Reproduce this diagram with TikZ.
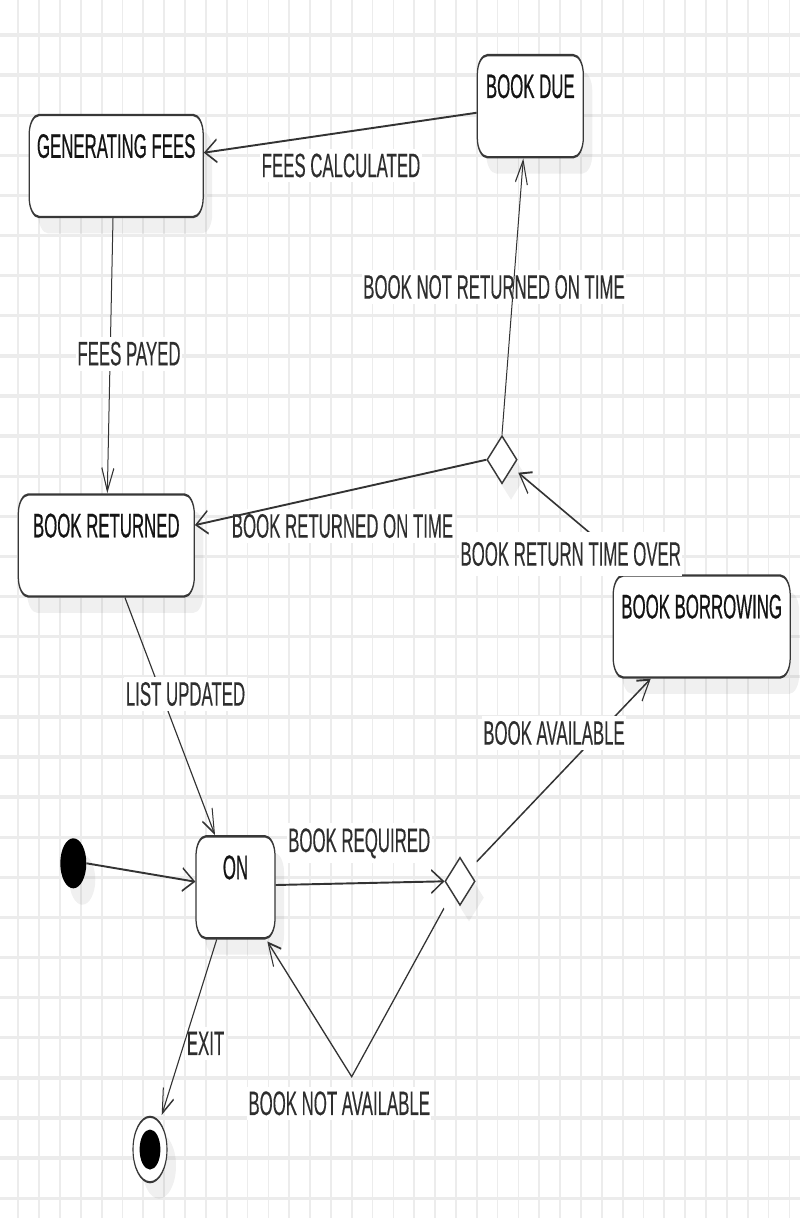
\documentclass[tikz,border=0pt]{standalone}
\usepackage{graphicx}
\usepackage{fontspec}
\setmainfont{Liberation Sans}
\newfontfamily\titlefont{Liberation Sans}[FakeBold=0.9]
\newfontfamily\labelfont{Liberation Sans}[FakeBold=0.4]
\usetikzlibrary{arrows.meta,shapes.geometric,shadows}
\newcommand\sq[1]{\scalebox{0.955}[1]{#1}}
\tikzset{
  gridline/.style={draw=gray!15, line width=1.7pt},
  shd/.style={drop shadow={shadow xshift=9pt, shadow yshift=-8.5pt, fill=black, opacity=0.06}},
  statebox/.style={draw=black!78, line width=1.25pt, fill=white, rounded corners=10pt,
    minimum height=53pt, inner sep=0pt, shd},
  titletext/.style={font=\titlefont\fontsize{17.6}{20}\selectfont, text=black!92, inner sep=0pt},
  lbl/.style={font=\labelfont\fontsize{17.6}{20}\selectfont, text=black!82, fill=white,
    inner xsep=1.5pt, inner ysep=2.5pt},
  conn/.style={draw=black!80, line width=1pt, -{Straight Barb[length=12pt,width=12pt]}},
  choice/.style={diamond, draw=black!78, line width=1.1pt, fill=white,
    minimum width=30pt, minimum height=25pt, inner sep=0pt, shd},
  pseudo/.style={circle, inner sep=0pt},
}
\begin{document}
\begin{tikzpicture}
\path[use as bounding box, fill=white] (0pt,0pt) rectangle (800pt,-1218pt);
\begin{scope}[transform canvas={yscale=1.925}, x=1pt, y=-0.519481pt]
  % grid
  \foreach \k in {0,...,37} \draw[gridline] ({18.3+20.84*\k},0) -- ({18.3+20.84*\k},1218);
  \foreach \k in {0,...,29} \draw[gridline] (0,{35+40.11*\k}) -- (800,{35+40.11*\k});

  % states
  \node[statebox, minimum width=174pt] (gf) at (116.2,166) {};
  \node[statebox, minimum width=106pt] (bd) at (530.3,106.2) {};
  \node[statebox, minimum width=176pt] (br) at (106.3,545.5) {};
  \node[statebox, minimum width=177pt] (bb) at (701.7,626.5) {};
  \node[statebox, minimum width=79pt]  (on) at (235.5,887.3) {};

  \node[titletext] (tgf) at ([yshift=-16.8pt]gf.north) {\sq{GENERATING FEES}};
  \node[titletext] (tbd) at ([yshift=-16.8pt]bd.north) {\sq{BOOK DUE}};
  \node[titletext] (tbr) at ([yshift=-16.8pt]br.north) {\sq{BOOK RETURNED}};
  \node[titletext] (tbb) at ([yshift=-16.8pt]bb.north) {\sq{BOOK BORROWING}};
  \node[titletext] (ton) at ([yshift=-16.8pt]on.north) {\sq{ON}};

  % pseudo states
  \node[pseudo, fill=black, minimum size=26pt, shd] (ini) at (73.3,863.3) {};
  \node[pseudo, draw=black!78, line width=1.1pt, fill=white, minimum size=34pt, shd] (fin) at (150,1149.5) {};
  \node[pseudo, fill=black, minimum size=20.8pt] (findot) at (fin.center) {};
  \node[choice] (d1) at (502,459.7) {};
  \node[choice] (d2) at (460,881.3) {};

  % connectors hidden under their labels
  \draw[conn] ([xshift=-3.2pt]gf.south) -- ([xshift=1pt]br.north);
  \draw[conn] ([xshift=18.7pt]br.south) -- ([xshift=-20.5pt]on.north);
  \draw[conn] ([xshift=16.7pt,yshift=10.2pt]d2.center) -- ([xshift=-51pt]bb.south);
  \draw[conn] ([xshift=-62.7pt]bb.north) -- ([xshift=16.3pt,yshift=-6.75pt]d1.center);

  % labels
  \node[lbl] (l1) at (341,165.5) {\sq{FEES CALCULATED}};
  \node[lbl] (l2) at (129,353.7) {\sq{FEES PAYED}};
  \node[lbl] (l3) at (494,287) {\sq{BOOK NOT RETURNED ON TIME}};
  \node[lbl] (l4) at (342.5,526) {\sq{BOOK RETURNED ON TIME}};
  \node[lbl, inner ysep=5pt] (l5) at (570.7,554) {\sq{BOOK RETURN TIME OVER}};
  \node[lbl] (l6) at (185.5,694) {\sq{LIST UPDATED}};
  \node[lbl] (l7) at (554,733) {\sq{BOOK AVAILABLE}};
  \node[lbl] (l8) at (359.2,843.3) {\sq{BOOK REQUIRED}};
  \node[lbl] (l9) at (205.5,1043.3) {\sq{EXIT}};
  \node[lbl] (l10) at (339.2,1103.3) {\sq{BOOK NOT AVAILABLE}};

  % connectors drawn over labels
  \draw[conn] ([yshift=-3.4pt]bd.west) -- ([yshift=6.9pt]gf.east);
  \draw[conn] (d1.north) -- ([xshift=-7pt]bd.south);
  \draw[conn] (d1.west) -- ([yshift=10.6pt]br.east);
  \draw[conn] (ini.east) -- ([yshift=2.9pt]on.west);
  \draw[conn] ([yshift=1.2pt]on.east) -- (d2.west);
  \draw[conn] ([xshift=-18.8pt]on.south) -- ([xshift=11.7pt,yshift=17.9pt]fin.center);
  \coordinate (v) at (351.7,1076.7);
  \draw[conn] ([xshift=-16pt,yshift=-14pt]d2.center) -- (v) -- ([xshift=-8.3pt,yshift=-1pt]on.south east);
\end{scope}
\end{tikzpicture}
\end{document}
